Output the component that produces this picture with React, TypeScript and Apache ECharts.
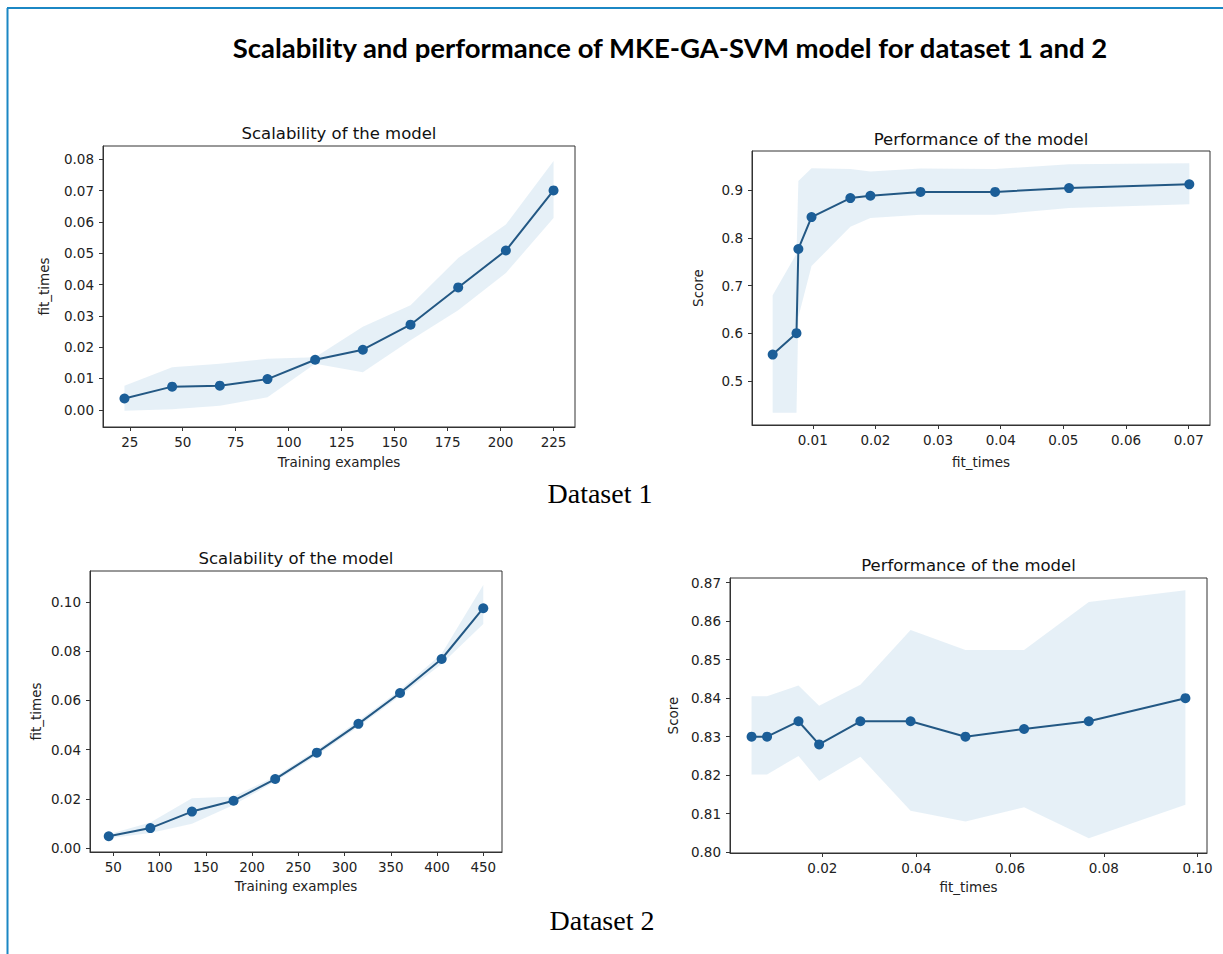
import React, { useEffect, useRef } from "react";
import * as echarts from "echarts";

// ---------- Dataset 1 ----------
const trainSizes1 = [22.5, 45, 67.5, 90, 112.5, 135, 157.5, 180, 202.5, 225];
const fitTimes1 = [0.0036, 0.0074, 0.0077, 0.0098, 0.016, 0.0192, 0.0272, 0.0391, 0.0509, 0.0701];
const fitUpper1 = [0.0077, 0.0136, 0.0147, 0.0163, 0.0168, 0.0265, 0.0334, 0.0485, 0.0592, 0.0795];
const fitLower1 = [-0.0003, 0.0002, 0.0013, 0.004, 0.0147, 0.012, 0.0222, 0.0318, 0.0437, 0.0613];
const score1 = [0.555, 0.6, 0.777, 0.844, 0.884, 0.889, 0.897, 0.897, 0.905, 0.913];
const scoreUpper1 = [0.68, 0.767, 0.92, 0.947, 0.945, 0.94, 0.946, 0.945, 0.955, 0.957];
const scoreLower1 = [0.433, 0.433, 0.634, 0.741, 0.824, 0.842, 0.849, 0.849, 0.863, 0.871];

// ---------- Dataset 2 ----------
const trainSizes2 = [45, 90, 135, 180, 225, 270, 315, 360, 405, 450];
const fitTimes2 = [0.0049, 0.0082, 0.0149, 0.0193, 0.0281, 0.0388, 0.0505, 0.063, 0.0768, 0.0974];
const fitUpper2 = [0.0057, 0.0105, 0.0203, 0.021, 0.0291, 0.04, 0.0517, 0.0642, 0.0789, 0.1068];
const fitLower2 = [0.0041, 0.0062, 0.01, 0.0176, 0.0271, 0.0376, 0.0493, 0.0618, 0.0748, 0.091];
const score2 = [0.83, 0.83, 0.834, 0.828, 0.834, 0.834, 0.83, 0.832, 0.834, 0.84];
const scoreUpper2 = [0.8405, 0.8405, 0.8433, 0.838, 0.8435, 0.8577, 0.8525, 0.8525, 0.865, 0.868];
const scoreLower2 = [0.8202, 0.8202, 0.825, 0.8185, 0.8248, 0.8108, 0.808, 0.8117, 0.8036, 0.8123];

// ---------- Tick labels ----------
const ticksTrain1 = [25, 50, 75, 100, 125, 150, 175, 200, 225];
const ticksFit1 = [0.0, 0.01, 0.02, 0.03, 0.04, 0.05, 0.06, 0.07, 0.08];
const ticksFitX1 = [0.01, 0.02, 0.03, 0.04, 0.05, 0.06, 0.07];
const ticksScore1 = [0.5, 0.6, 0.7, 0.8, 0.9];
const ticksTrain2 = [50, 100, 150, 200, 250, 300, 350, 400, 450];
const ticksFit2 = [0.0, 0.02, 0.04, 0.06, 0.08, 0.1];
const ticksFitX2 = [0.02, 0.04, 0.06, 0.08, 0.1];
const ticksScore2 = [0.8, 0.81, 0.82, 0.83, 0.84, 0.85, 0.86, 0.87];

const TITLE = "Scalability and performance of MKE-GA-SVM model for dataset 1 and 2";

const LINE_COLOR = "#235884";
const MARK_COLOR = "#1b5e98";
const BAND_COLOR = "rgba(31,119,180,0.11)";
const AX_COLOR = "#333";
const TXT_COLOR = "#222";
const FONT = "DejaVu Sans";
const TICK_SIZE = 13.5;

type Panel = {
  box: [number, number, number, number]; // left, top, right, bottom
  title: string;
  titleY: number;
  xs: number[];
  ys: number[];
  lo: number[];
  hi: number[];
  xMin: number;
  xMax: number;
  yMin: number;
  yMax: number;
  xTicks: number[];
  yTicks: number[];
  xFmt: (v: number) => string;
  yFmt: (v: number) => string;
  xName: string;
  yName: string;
  xGap: number;
  yGap: number;
};

const panels: Panel[] = [
  {
    box: [103, 146, 575, 427],
    title: "Scalability of the model",
    titleY: 133,
    xs: trainSizes1,
    ys: fitTimes1,
    lo: fitLower1,
    hi: fitUpper1,
    xMin: 12.375,
    xMax: 235.125,
    yMin: -0.0055,
    yMax: 0.0843,
    xTicks: ticksTrain1,
    yTicks: ticksFit1,
    xFmt: (v) => String(v),
    yFmt: (v) => v.toFixed(2),
    xName: "Training examples",
    yName: "fit_times",
    xGap: 28,
    yGap: 52,
  },
  {
    box: [752, 151, 1210, 425],
    title: "Performance of the model",
    titleY: 139,
    xs: fitTimes1,
    ys: score1,
    lo: scoreLower1,
    hi: scoreUpper1,
    xMin: 0.0003,
    xMax: 0.0734,
    yMin: 0.407,
    yMax: 0.983,
    xTicks: ticksFitX1,
    yTicks: ticksScore1,
    xFmt: (v) => v.toFixed(2),
    yFmt: (v) => v.toFixed(1),
    xName: "fit_times",
    yName: "Score",
    xGap: 30,
    yGap: 47,
  },
  {
    box: [90, 571, 502, 852],
    title: "Scalability of the model",
    titleY: 558,
    xs: trainSizes2,
    ys: fitTimes2,
    lo: fitLower2,
    hi: fitUpper2,
    xMin: 24.75,
    xMax: 470.25,
    yMin: -0.0015,
    yMax: 0.1125,
    xTicks: ticksTrain2,
    yTicks: ticksFit2,
    xFmt: (v) => String(v),
    yFmt: (v) => v.toFixed(2),
    xName: "Training examples",
    yName: "fit_times",
    xGap: 27,
    yGap: 47,
  },
  {
    box: [730, 578, 1207, 853],
    title: "Performance of the model",
    titleY: 565,
    xs: fitTimes2,
    ys: score2,
    lo: scoreLower2,
    hi: scoreUpper2,
    xMin: 0.0003,
    xMax: 0.102,
    yMin: 0.7998,
    yMax: 0.8712,
    xTicks: ticksFitX2,
    yTicks: ticksScore2,
    xFmt: (v) => v.toFixed(2),
    yFmt: (v) => v.toFixed(2),
    xName: "fit_times",
    yName: "Score",
    xGap: 27,
    yGap: 50,
  },
];

function buildOption() {
  const grid: any[] = [];
  const xAxis: any[] = [];
  const yAxis: any[] = [];
  const series: any[] = [];
  const graphic: any[] = [];

  panels.forEach((p, i) => {
    const [l, t, r, b] = p.box;
    grid.push({
      left: l,
      top: t,
      width: r - l,
      height: b - t,
      show: true,
      borderColor: AX_COLOR,
      borderWidth: 1,
      backgroundColor: "transparent",
      containLabel: false,
    });
    const common = {
      type: "value",
      gridIndex: i,
      splitLine: { show: false },
      axisLine: { show: true, onZero: false, lineStyle: { color: AX_COLOR, width: 1 } },
      nameLocation: "middle",
      nameTextStyle: { color: TXT_COLOR, fontSize: 13.5, fontFamily: FONT },
    };
    xAxis.push({
      ...common,
      min: p.xMin,
      max: p.xMax,
      name: p.xName,
      nameGap: p.xGap,
      axisTick: {
        show: true,
        customValues: p.xTicks,
        length: 4,
        lineStyle: { color: AX_COLOR },
      },
      axisLabel: {
        customValues: p.xTicks,
        formatter: (v: number) => p.xFmt(v),
        color: TXT_COLOR,
        fontSize: TICK_SIZE,
        fontFamily: FONT,
        margin: 8,
      },
    });
    yAxis.push({
      ...common,
      min: p.yMin,
      max: p.yMax,
      name: p.yName,
      nameGap: p.yGap,
      nameRotate: 90,
      axisTick: {
        show: true,
        customValues: p.yTicks,
        length: 4,
        lineStyle: { color: AX_COLOR },
      },
      axisLabel: {
        customValues: p.yTicks,
        formatter: (v: number) => p.yFmt(v),
        color: TXT_COLOR,
        fontSize: TICK_SIZE,
        fontFamily: FONT,
        margin: 9,
      },
    });
    series.push({
      type: "custom",
      xAxisIndex: i,
      yAxisIndex: i,
      silent: true,
      z: 1,
      data: p.xs.map((x, k) => [x, p.lo[k], p.hi[k]]),
      encode: { x: 0, y: [1, 2] },
      renderItem: (params: any, api: any) => {
        if (params.dataIndex !== 0) return null;
        const pts: number[][] = [];
        for (let k = 0; k < p.xs.length; k++) pts.push(api.coord([p.xs[k], p.hi[k]]));
        for (let k = p.xs.length - 1; k >= 0; k--) pts.push(api.coord([p.xs[k], p.lo[k]]));
        return {
          type: "polygon",
          shape: { points: pts },
          style: { fill: BAND_COLOR, stroke: "none" },
        };
      },
    });
    series.push({
      type: "line",
      xAxisIndex: i,
      yAxisIndex: i,
      z: 3,
      data: p.xs.map((x, k) => [x, p.ys[k]]),
      symbol: "circle",
      symbolSize: 10,
      showSymbol: true,
      lineStyle: { color: LINE_COLOR, width: 2 },
      itemStyle: { color: MARK_COLOR },
    });
    graphic.push({
      type: "text",
      x: (l + r) / 2,
      y: p.titleY,
      style: {
        text: p.title,
        fill: "#111",
        font: `16.5px '${FONT}'`,
        textAlign: "center",
        textVerticalAlign: "middle",
      },
    });
  });

  // frame lines (top and left)
  graphic.push({
    type: "line",
    shape: { x1: 7, y1: 8, x2: 1223, y2: 8 },
    style: { stroke: "#1b87c4", lineWidth: 2 },
  });
  graphic.push({
    type: "line",
    shape: { x1: 7.5, y1: 8, x2: 7.5, y2: 954 },
    style: { stroke: "#1b87c4", lineWidth: 2 },
  });
  graphic.push({
    type: "text",
    x: 670,
    y: 47,
    style: {
      text: TITLE,
      fill: "#000",
      font: "bold 27.5px Lato",
      textAlign: "center",
      textVerticalAlign: "middle",
    },
  });
  graphic.push({
    type: "text",
    x: 600,
    y: 493,
    style: {
      text: "Dataset 1",
      fill: "#000",
      font: "28px 'Liberation Serif'",
      textAlign: "center",
      textVerticalAlign: "middle",
    },
  });
  graphic.push({
    type: "text",
    x: 602,
    y: 920,
    style: {
      text: "Dataset 2",
      fill: "#000",
      font: "28px 'Liberation Serif'",
      textAlign: "center",
      textVerticalAlign: "middle",
    },
  });

  return {
    animation: false,
    backgroundColor: "#fff",
    grid,
    xAxis,
    yAxis,
    series,
    graphic,
  };
}

export default function App() {
  const ref = useRef<HTMLDivElement>(null);
  useEffect(() => {
    if (!ref.current) return;
    const chart = echarts.init(ref.current, null, { renderer: "svg" });
    chart.setOption(buildOption() as any);
    return () => chart.dispose();
  }, []);
  return (
    <div
      ref={ref}
      style={{ position: "fixed", left: 0, top: 0, width: 1223, height: 954 }}
    />
  );
}
